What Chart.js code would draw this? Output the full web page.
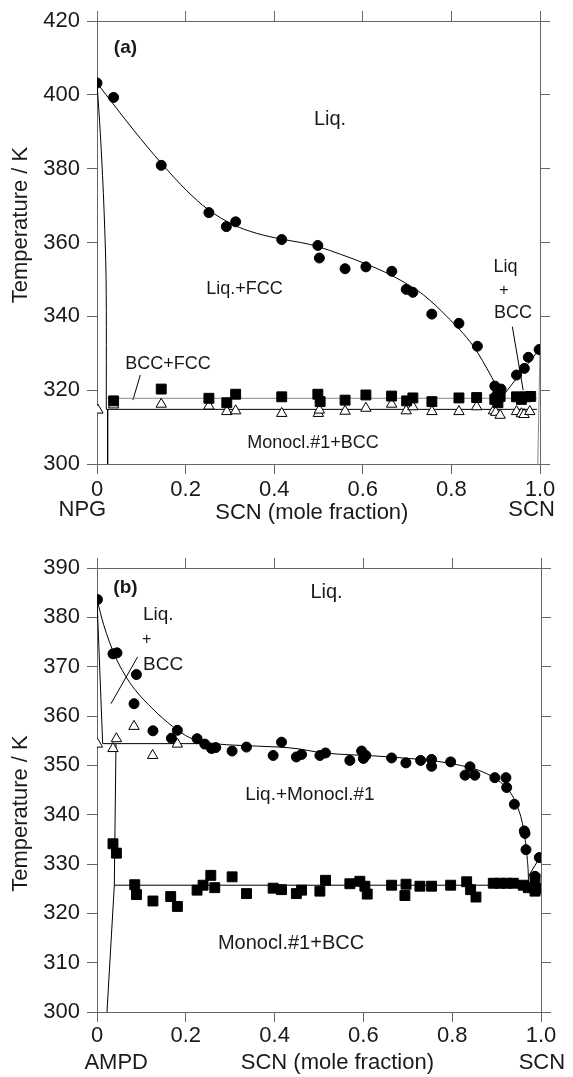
<!DOCTYPE html>
<html><head><meta charset="utf-8">
<script src="https://cdn.jsdelivr.net/npm/chart.js@4"></script>
<style>
html,body{margin:0;padding:0;background:#fff;}
#wrap{position:relative;width:573px;height:1077px;overflow:hidden;}
#c1{position:absolute;left:0;top:0;}
#c2{position:absolute;left:0;top:540px;}
</style></head><body>
<div id="wrap"><canvas id="c1" width="573" height="540"></canvas><canvas id="c2" width="573" height="537"></canvas></div>
<script>
// ---------- Panel (a): NPG – SCN ----------
const xTickLabels = ['0', '0.2', '0.4', '0.6', '0.8', '1.0'];

const aCircleX = [0, 0.0375, 0.145, 0.2526, 0.292, 0.313, 0.417, 0.4985, 0.502, 0.56, 0.607, 0.6655, 0.698, 0.713, 0.7557, 0.817, 0.8586, 0.898, 0.905, 0.912, 0.9, 0.908, 0.902, 0.947, 0.9646, 0.9736, 0.998];
const aCircleT = [403.2, 399.3, 380.9, 368.1, 364.3, 365.6, 360.8, 359.2, 355.8, 352.9, 353.4, 352.2, 347.3, 346.5, 340.6, 338.1, 331.9, 321.1, 319.8, 320.3, 318.3, 317.6, 316.9, 324.1, 325.9, 328.9, 331.0];

const aSquareX = [0.0375, 0.145, 0.2526, 0.293, 0.313, 0.417, 0.4985, 0.5037, 0.56, 0.607, 0.665, 0.699, 0.713, 0.756, 0.817, 0.857, 0.898, 0.905, 0.91, 0.947, 0.958, 0.968, 0.979];
const aSquareT = [317.1, 320.3, 317.8, 316.6, 318.9, 318.2, 318.9, 316.9, 317.3, 318.7, 318.4, 317.1, 317.9, 316.9, 317.9, 318.0, 317.5, 316.6, 318.3, 318.2, 317.5, 318.2, 318.3];

const aTriX = [0.002, 0.0375, 0.145, 0.2526, 0.293, 0.313, 0.417, 0.4997, 0.502, 0.56, 0.607, 0.665, 0.698, 0.713, 0.756, 0.817, 0.857, 0.895, 0.9, 0.91, 0.947, 0.958, 0.964, 0.977];
const aTriT = [314.6, 316.0, 316.2, 315.7, 314.2, 314.4, 313.7, 313.7, 314.6, 314.3, 315.1, 316.2, 314.4, 315.5, 314.2, 314.2, 315.5, 314.4, 314.0, 313.2, 314.2, 313.6, 313.4, 314.2];

// phase boundary lines
const aLiqLeftX = [0, 0.04, 0.083, 0.145, 0.203, 0.25, 0.308, 0.36, 0.417, 0.46, 0.4985, 0.55, 0.607, 0.6616, 0.713, 0.737, 0.7895, 0.8496, 0.891, 0.915];
const aLiqLeftT = [403.2, 397.0, 390.4, 381.5, 374.0, 369.0, 364.8, 362.5, 360.9, 360.0, 358.9, 356.8, 354.2, 351.3, 347.8, 345.8, 340.0, 331.9, 323.5, 317.8];
const aLiqRightX = [0.912, 1.0];
const aLiqRightT = [317.8, 331.3];
const aSolLeftX = [0, 0.0075, 0.015, 0.0205, 0.021];
const aSolLeftT = [403.2, 389.5, 371.5, 350.0, 314.8];
const aUpperX = [0.024, 0.993];
const aUpperT = [317.8, 317.8];
const aLowerX = [0.021, 0.993];
const aLowerT = [314.8, 314.8];
const aVertX = [0.024, 0.024];
const aVertT = [314.8, 300];
const aSolRightX = [1.0, 0.995];
const aSolRightT = [331.3, 300];
const aPtr1X = [0.0977, 0.081];
const aPtr1T = [324.1, 317.3];
const aPtr2X = [0.9375, 0.962];
const aPtr2T = [337.2, 320.0];

// ---------- Panel (b): AMPD – SCN ----------
const bCircleX = [0.001, 0.036, 0.045, 0.0888, 0.0834, 0.126, 0.1676, 0.181, 0.2254, 0.2427, 0.258, 0.2675, 0.3043, 0.3367, 0.3967, 0.4156, 0.449, 0.4607, 0.502, 0.5147, 0.5695, 0.596, 0.6056, 0.600, 0.6635, 0.6957, 0.7289, 0.7536, 0.7536, 0.7965, 0.84, 0.829, 0.851, 0.896, 0.921, 0.9227, 0.94, 0.9624, 0.964, 0.9662, 0.9865, 0.9962];
const bCircleT = [383.6, 372.6, 372.8, 368.4, 362.5, 357.0, 355.5, 357.1, 355.4, 354.3, 353.4, 353.6, 352.9, 353.7, 352.0, 354.7, 351.7, 352.2, 352.0, 352.5, 351.0, 352.9, 352.0, 351.4, 351.5, 350.5, 351.0, 351.2, 349.8, 350.7, 349.7, 348.0, 348.0, 347.5, 347.5, 345.5, 342.1, 336.7, 336.2, 332.9, 327.5, 331.3];

const bSquareX = [0.036, 0.0437, 0.085, 0.0888, 0.126, 0.166, 0.181, 0.2254, 0.2389, 0.2563, 0.2653, 0.3043, 0.3367, 0.3967, 0.4156, 0.449, 0.4607, 0.502, 0.5147, 0.5695, 0.592, 0.6033, 0.6086, 0.6635, 0.696, 0.6935, 0.7273, 0.7536, 0.7965, 0.8326, 0.8415, 0.8535, 0.8925, 0.9076, 0.9227, 0.9376, 0.96, 0.9714, 0.9865, 0.9865, 0.9939];
const bSquareT = [334.1, 332.2, 325.8, 323.8, 322.5, 323.4, 321.4, 324.7, 325.7, 327.7, 325.2, 327.4, 324.0, 325.1, 324.8, 324.0, 324.7, 324.5, 326.7, 326.0, 326.5, 325.5, 323.9, 325.7, 325.9, 323.6, 325.5, 325.5, 325.7, 326.4, 324.8, 323.3, 326.1, 326.1, 326.1, 326.1, 325.7, 325.2, 327.0, 324.5, 325.0];

const bTriX = [0.001, 0.036, 0.0437, 0.0834, 0.1253, 0.181];
const bTriT = [354.3, 353.4, 355.4, 357.9, 352.0, 354.3];

const bLiqX = [0, 0.015, 0.04, 0.063, 0.085, 0.126, 0.17, 0.209, 0.25, 0.306, 0.412, 0.457, 0.502, 0.66, 0.8015, 0.878, 0.919, 0.9302, 0.9414, 0.9565, 0.964, 0.9691, 0.9714, 0.972];
const bLiqT = [383.6, 378.5, 372.3, 368.3, 365.4, 361.4, 357.9, 355.6, 354.6, 354.1, 353.7, 353.3, 352.6, 351.7, 350.3, 348.3, 345.8, 344.6, 342.8, 338.9, 335.2, 331.0, 327.9, 325.8];
const bLiqRightX = [0.9714, 0.998];
const bLiqRightT = [327.5, 331.4];
const bSolLeftX = [0, 0.0128];
const bSolLeftT = [383.6, 354.4];
const bUpperX = [0.0128, 0.25];
const bUpperT = [354.4, 354.4];
const bVertX = [0.0428, 0.039, 0.0225];
const bVertT = [354.4, 325.7, 300];
const bLowerX = [0.039, 1.0];
const bLowerT = [325.7, 325.7];
const bPtrX = [0.0315, 0.0917];
const bPtrT = [362.5, 372.0];

// ---------- helpers ----------
const FONT = "'Liberation Sans', Arial, Helvetica, sans-serif";
const TEXT = '#1a1a1a';
const AXIS = '#666';
const xy = (xs, ts) => xs.map((x, i) => ({ x: x, y: ts[i] }));

function pts(xs, ts, style, radius, fill) {
  return { data: xy(xs, ts), showLine: false, pointStyle: style, pointRadius: radius, pointHoverRadius: radius,
           pointBackgroundColor: fill, pointBorderColor: '#000', pointBorderWidth: 1 };
}
function line(xs, ts, color, smooth) {
  const d = { data: xy(xs, ts), showLine: true, pointRadius: 0, pointHoverRadius: 0, borderColor: color || '#000',
              borderWidth: 1, fill: false };
  if (smooth === 'mono') d.cubicInterpolationMode = 'monotone';
  else if (smooth) d.tension = smooth;
  return d;
}

const labelPlugin = {
  id: 'phaseLabels',
  afterDraw(chart, args, opts) {
    const { ctx, chartArea, scales } = chart;
    ctx.save();
    ctx.fillStyle = TEXT;
    ctx.textBaseline = 'middle';
    for (const it of (opts.items || [])) {
      ctx.font = it.font;
      ctx.textAlign = it.align || 'center';
      const px = scales.x.getPixelForValue(it.x);
      const py = (it.y !== undefined) ? scales.y.getPixelForValue(it.y) : chartArea.bottom + it.dy;
      ctx.fillText(it.text, px, py);
    }
    if (opts.yTitle) {
      ctx.font = opts.yTitle.font;
      ctx.textAlign = 'center';
      ctx.translate(opts.yTitle.x, chartArea.top + opts.yTitle.dy);
      ctx.rotate(-Math.PI / 2);
      ctx.fillText(opts.yTitle.text, 0, 0);
    }
    ctx.restore();
  }
};

function frameScales(yMin, yMax, yStep, dims) {
  const grid = { drawOnChartArea: false, drawTicks: true, tickLength: 10, color: AXIS, lineWidth: 1 };
  const border = { display: true, color: AXIS, width: 1 };
  return {
    x: { type: 'linear', position: 'bottom', min: 0, max: 1,
         ticks: { stepSize: 0.2, autoSkip: false, maxRotation: 0, padding: dims.xPad,
                  font: { family: FONT, size: 22 }, color: TEXT,
                  callback: (v, i) => xTickLabels[i] },
         grid: grid, border: border, afterFit: s => { s.height = dims.bottom; } },
    x2: { type: 'linear', position: 'top', min: 0, max: 1,
          ticks: { display: false, stepSize: 0.2 }, grid: grid, border: border,
          afterFit: s => { s.height = dims.top; } },
    y: { type: 'linear', position: 'left', min: yMin, max: yMax,
         ticks: { stepSize: yStep, padding: 7, font: { family: FONT, size: 22 }, color: TEXT },
         grid: grid, border: border, afterFit: s => { s.width = dims.left; } },
    y2: { type: 'linear', position: 'right', min: yMin, max: yMax,
          ticks: { display: false, stepSize: yStep }, grid: grid, border: border,
          afterFit: s => { s.width = dims.right; } }
  };
}

const common = {
  responsive: false, animation: false, devicePixelRatio: 1,
  layout: { padding: 0 },
  elements: { line: { borderJoinStyle: 'round' } },
};

// ---------- chart (a) ----------
new Chart(document.getElementById('c1'), {
  type: 'scatter',
  data: { datasets: [
    pts(aCircleX, aCircleT, 'circle', 5, '#000'),
    pts(aSquareX, aSquareT, 'rect', 7, '#000'),
    pts(aTriX, aTriT, 'triangle', 6, '#fff'),
    line(aLiqLeftX, aLiqLeftT, '#000', 'mono'),
    line(aLiqRightX, aLiqRightT, '#000'),
    line(aSolLeftX, aSolLeftT, '#000', 0.3),
    line(aUpperX, aUpperT, '#888'),
    line(aLowerX, aLowerT, '#000'),
    line(aVertX, aVertT, '#000'),
    line(aSolRightX, aSolRightT, '#888'),
    line(aPtr1X, aPtr1T, '#000'),
    line(aPtr2X, aPtr2T, '#000')
  ]},
  options: Object.assign({}, common, {
    scales: frameScales(300, 420, 20, { left: 97, right: 33, top: 21, bottom: 76, xPad: 3 }),
    plugins: {
      legend: { display: false }, tooltip: { enabled: false },
      phaseLabels: {
        items: [
          { text: '(a)', x: 0.0643, y: 412.8, font: `bold 19px ${FONT}` },
          { text: 'Liq.', x: 0.526, y: 393.2, font: `20px ${FONT}` },
          { text: 'Liq.+FCC', x: 0.333, y: 347.3, font: `18px ${FONT}` },
          { text: 'BCC+FCC', x: 0.160, y: 327.0, font: `18px ${FONT}` },
          { text: 'Monocl.#1+BCC', x: 0.4876, y: 305.8, font: `18px ${FONT}` },
          { text: 'Liq', x: 0.922, y: 353.4, font: `18px ${FONT}` },
          { text: '+', x: 0.9187, y: 346.9, font: `16px ${FONT}` },
          { text: 'BCC', x: 0.939, y: 340.8, font: `18px ${FONT}` },
          { text: 'NPG', x: -0.033, dy: 45.5, font: `22px ${FONT}` },
          { text: 'SCN (mole fraction)', x: 0.485, dy: 48.5, font: `22px ${FONT}` },
          { text: 'SCN', x: 0.981, dy: 46, font: `22px ${FONT}` }
        ],
        yTitle: { text: 'Temperature / K', x: 20.5, dy: 204, font: `22px ${FONT}` }
      }
    }
  }),
  plugins: [labelPlugin]
});

// ---------- chart (b) ----------
new Chart(document.getElementById('c2'), {
  type: 'scatter',
  data: { datasets: [
    pts(bCircleX, bCircleT, 'circle', 5, '#000'),
    pts(bSquareX, bSquareT, 'rect', 7, '#000'),
    pts(bTriX, bTriT, 'triangle', 6, '#fff'),
    line(bLiqX, bLiqT, '#000', 'mono'),
    line(bLiqRightX, bLiqRightT, '#000'),
    line(bSolLeftX, bSolLeftT, '#000'),
    line(bUpperX, bUpperT, '#000'),
    line(bVertX, bVertT, '#000'),
    line(bLowerX, bLowerT, '#000'),
    line(bPtrX, bPtrT, '#000')
  ]},
  options: Object.assign({}, common, {
    scales: frameScales(300, 390, 10, { left: 97, right: 32, top: 28, bottom: 65, xPad: 1 }),
    plugins: {
      legend: { display: false }, tooltip: { enabled: false },
      phaseLabels: {
        items: [
          { text: '(b)', x: 0.0642, y: 385.9, font: `bold 19px ${FONT}` },
          { text: 'Liq.', x: 0.5169, y: 385.0, font: `20px ${FONT}` },
          { text: 'Liq.', x: 0.1036, y: 380.5, font: `19px ${FONT}`, align: 'left' },
          { text: '+', x: 0.112, y: 375.4, font: `16px ${FONT}` },
          { text: 'BCC', x: 0.1036, y: 370.4, font: `19px ${FONT}`, align: 'left' },
          { text: 'Liq.+Monocl.#1', x: 0.4797, y: 344.0, font: `19px ${FONT}` },
          { text: 'Monocl.#1+BCC', x: 0.437, y: 313.8, font: `20px ${FONT}` },
          { text: 'AMPD', x: 0.0433, dy: 50.8, font: `22px ${FONT}` },
          { text: 'SCN (mole fraction)', x: 0.5414, dy: 50.5, font: `22px ${FONT}` },
          { text: 'SCN', x: 1.002, dy: 50.5, font: `22px ${FONT}` }
        ],
        yTitle: { text: 'Temperature / K', x: 20.5, dy: 245.5, font: `22px ${FONT}` }
      }
    }
  }),
  plugins: [labelPlugin]
});
</script>
</body></html>
